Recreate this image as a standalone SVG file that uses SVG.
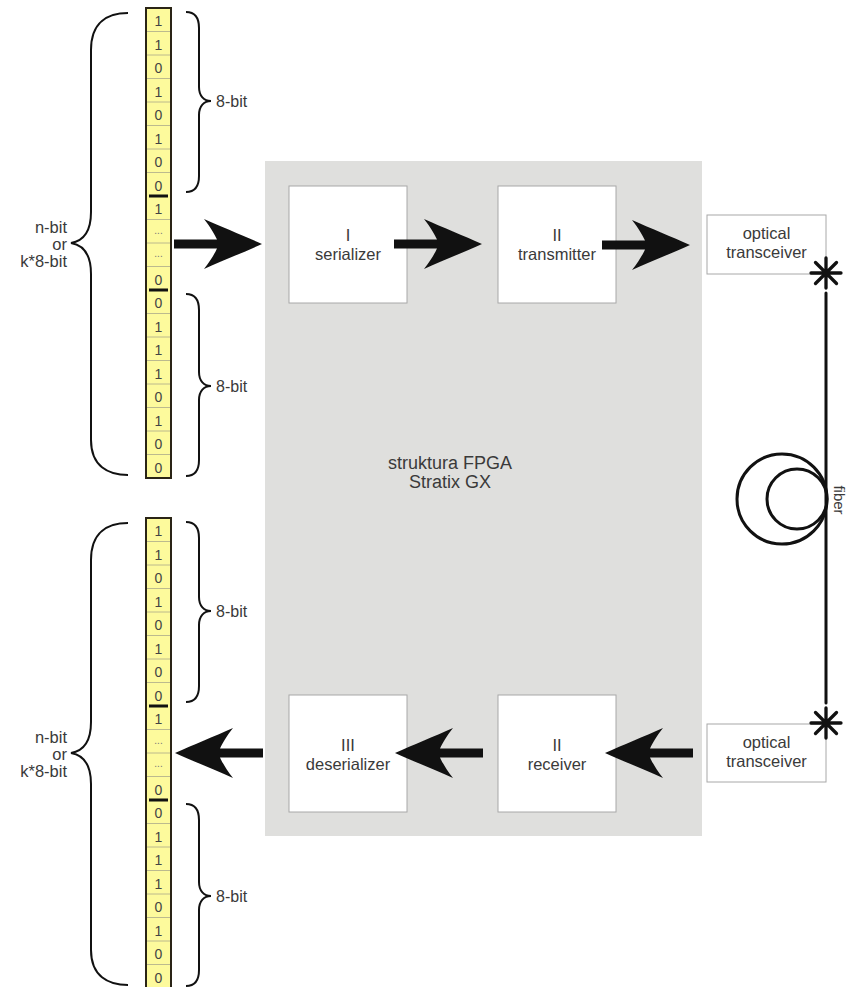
<svg xmlns="http://www.w3.org/2000/svg" xmlns:xlink="http://www.w3.org/1999/xlink" width="849" height="987" viewBox="0 0 849 987">
<style>
text{font-family:"Liberation Sans",Arial,sans-serif;fill:#3a3a3a}
.lbl{font-size:16.5px;text-anchor:middle}
.side{font-size:16px}
.nb{font-size:16.5px;text-anchor:end}
.bit{font-size:14px;text-anchor:middle;fill:#444}
.dots{font-size:10px;text-anchor:middle;fill:#777}
.col{fill:#fdfa9c;stroke:#2a2416;stroke-width:2}
.sep{stroke:#b4b28c;stroke-width:0.9;fill:none}
.thick{stroke:#111;stroke-width:3}
.brace{fill:none;stroke:#111;stroke-width:2}
.box{fill:#fff;stroke:#a8a8a8;stroke-width:1}
.fib{stroke:#111;stroke-width:3;fill:none;stroke-linecap:round}
</style>
<defs>
<path id="arr" d="M0,0 C-18,-8 -40,-17 -58,-25 C-51,-16 -47,-9 -45,-4.5 L-88,-4.5 L-88,4.5 L-45,4.5 C-47,9 -51,16 -58,25 C-40,17 -18,8 0,0 Z" fill="#111"/>
<g id="star" class="fib" style="stroke-width:3.3"><path d="M-15,0H15M0,-15V15M-10.5,-10.5L10.5,10.5M-10.5,10.5L10.5,-10.5"/></g>
</defs>
<rect width="849" height="987" fill="#fff"/>

<g id="fpga">
<rect x="265" y="161" width="437" height="675" fill="#dfdfdd"/>
<text class="lbl" x="450" y="469" style="font-size:18px">struktura FPGA</text>
<text class="lbl" x="450" y="488" style="font-size:18px">Stratix GX</text>
</g>

<g id="word-top">
<rect class="col" x="146" y="8" width="25" height="470"/>
<path class="sep" d="M147,31.5H170M147,55H170M147,78.5H170M147,102H170M147,125.5H170M147,149H170M147,172.5H170M147,219.5H170M147,243H170M147,266.5H170M147,313.5H170M147,337H170M147,360.5H170M147,384H170M147,407.5H170M147,431H170M147,454.5H170"/>
<path class="thick" d="M149,196H168M149,290H168"/>
<text class="bit" x="158.5" y="26">1</text>
<text class="bit" x="158.5" y="49.5">1</text>
<text class="bit" x="158.5" y="73">0</text>
<text class="bit" x="158.5" y="96.5">1</text>
<text class="bit" x="158.5" y="120">0</text>
<text class="bit" x="158.5" y="143.5">1</text>
<text class="bit" x="158.5" y="167">0</text>
<text class="bit" x="158.5" y="190.5">0</text>
<text class="bit" x="158.5" y="214">1</text>
<text class="dots" x="158.5" y="233.5">...</text>
<text class="dots" x="158.5" y="257">...</text>
<text class="bit" x="158.5" y="284.5">0</text>
<text class="bit" x="158.5" y="308">0</text>
<text class="bit" x="158.5" y="331.5">1</text>
<text class="bit" x="158.5" y="355">1</text>
<text class="bit" x="158.5" y="378.5">1</text>
<text class="bit" x="158.5" y="402">0</text>
<text class="bit" x="158.5" y="425.5">1</text>
<text class="bit" x="158.5" y="449">0</text>
<text class="bit" x="158.5" y="472.5">0</text>
<path class="brace" d="M186,12 C194,12 199,17 199,28 L199,87 C199,96 204,101 211,101 C204,101 199,106 199,115 L199,176 C199,187 194,192 186,192"/>
<path class="brace" d="M186,294 C194,294 199,299 199,310 L199,372 C199,381 204,386 211,386 C204,386 199,391 199,400 L199,460 C199,471 194,476 186,476"/>
<text class="side" x="216" y="107">8-bit</text>
<text class="side" x="216" y="392">8-bit</text>
<path class="brace" d="M128,13 C108,13 91,22 91,50 L91,212 C91,232 83,241 71,243 C83,245 91,254 91,274 L91,440 C91,466 108,475 128,475"/>
<text class="nb" x="67" y="233">n-bit</text>
<text class="nb" x="67" y="250">or</text>
<text class="nb" x="67" y="267">k*8-bit</text>
</g>

<g id="word-bottom">
<rect class="col" x="146" y="518" width="25" height="470"/>
<path class="sep" d="M147,541.5H170M147,565H170M147,588.5H170M147,612H170M147,635.5H170M147,659H170M147,682.5H170M147,729.5H170M147,753H170M147,776.5H170M147,823.5H170M147,847H170M147,870.5H170M147,894H170M147,917.5H170M147,941H170M147,964.5H170"/>
<path class="thick" d="M149,706H168M149,800H168"/>
<text class="bit" x="158.5" y="536">1</text>
<text class="bit" x="158.5" y="559.5">1</text>
<text class="bit" x="158.5" y="583">0</text>
<text class="bit" x="158.5" y="606.5">1</text>
<text class="bit" x="158.5" y="630">0</text>
<text class="bit" x="158.5" y="653.5">1</text>
<text class="bit" x="158.5" y="677">0</text>
<text class="bit" x="158.5" y="700.5">0</text>
<text class="bit" x="158.5" y="724">1</text>
<text class="dots" x="158.5" y="743.5">...</text>
<text class="dots" x="158.5" y="767">...</text>
<text class="bit" x="158.5" y="794.5">0</text>
<text class="bit" x="158.5" y="818">0</text>
<text class="bit" x="158.5" y="841.5">1</text>
<text class="bit" x="158.5" y="865">1</text>
<text class="bit" x="158.5" y="888.5">1</text>
<text class="bit" x="158.5" y="912">0</text>
<text class="bit" x="158.5" y="935.5">1</text>
<text class="bit" x="158.5" y="959">0</text>
<text class="bit" x="158.5" y="982.5">0</text>
<path class="brace" d="M186,522 C194,522 199,527 199,538 L199,597 C199,606 204,611 211,611 C204,611 199,616 199,625 L199,686 C199,697 194,702 186,702"/>
<path class="brace" d="M186,804 C194,804 199,809 199,820 L199,882 C199,891 204,896 211,896 C204,896 199,901 199,910 L199,970 C199,981 194,986 186,986"/>
<text class="side" x="216" y="617">8-bit</text>
<text class="side" x="216" y="902">8-bit</text>
<path class="brace" d="M128,523 C108,523 91,532 91,560 L91,722 C91,742 83,751 71,753 C83,755 91,764 91,784 L91,950 C91,976 108,985 128,985"/>
<text class="nb" x="67" y="743">n-bit</text>
<text class="nb" x="67" y="760">or</text>
<text class="nb" x="67" y="777">k*8-bit</text>
</g>

<g id="serializer">
<rect class="box" x="289" y="186" width="118" height="117"/>
<text class="lbl" x="348" y="241">I</text>
<text class="lbl" x="348" y="259.5">serializer</text>
</g>
<g id="transmitter">
<rect class="box" x="498" y="186" width="118" height="117"/>
<text class="lbl" x="557" y="241">II</text>
<text class="lbl" x="557" y="259.5">transmitter</text>
</g>
<g id="deserializer">
<rect class="box" x="289" y="695" width="118" height="117"/>
<text class="lbl" x="348" y="751">III</text>
<text class="lbl" x="348" y="769.5">deserializer</text>
</g>
<g id="receiver">
<rect class="box" x="498" y="695" width="118" height="117"/>
<text class="lbl" x="557" y="751">II</text>
<text class="lbl" x="557" y="769.5">receiver</text>
</g>
<g id="transceiver-top">
<rect class="box" x="707" y="215" width="119" height="59"/>
<text class="lbl" x="766.5" y="239">optical</text>
<text class="lbl" x="766.5" y="258">transceiver</text>
</g>
<g id="transceiver-bottom">
<rect class="box" x="707" y="724" width="119" height="58"/>
<text class="lbl" x="766.5" y="748">optical</text>
<text class="lbl" x="766.5" y="767">transceiver</text>
</g>

<g id="connectors">
<use xlink:href="#arr" transform="translate(262,244)"/>
<use xlink:href="#arr" transform="translate(482,244)"/>
<use xlink:href="#arr" transform="translate(690,245)"/>
<use xlink:href="#arr" transform="translate(175,753) scale(-1,1)"/>
<use xlink:href="#arr" transform="translate(395,753) scale(-1,1)"/>
<use xlink:href="#arr" transform="translate(605,753) scale(-1,1)"/>
<g id="fiber">
<use xlink:href="#star" transform="translate(826,273)"/>
<use xlink:href="#star" transform="translate(826,723)"/>
<line class="fib" x1="826" y1="293" x2="826" y2="703" stroke-linecap="butt"/>
<circle class="fib" cx="782" cy="499" r="45"/>
<circle class="fib" cx="797" cy="499" r="30"/>
<text transform="translate(834,500) rotate(90)" text-anchor="middle" style="font-size:15px">fiber</text>
</g>
</g>
</svg>
